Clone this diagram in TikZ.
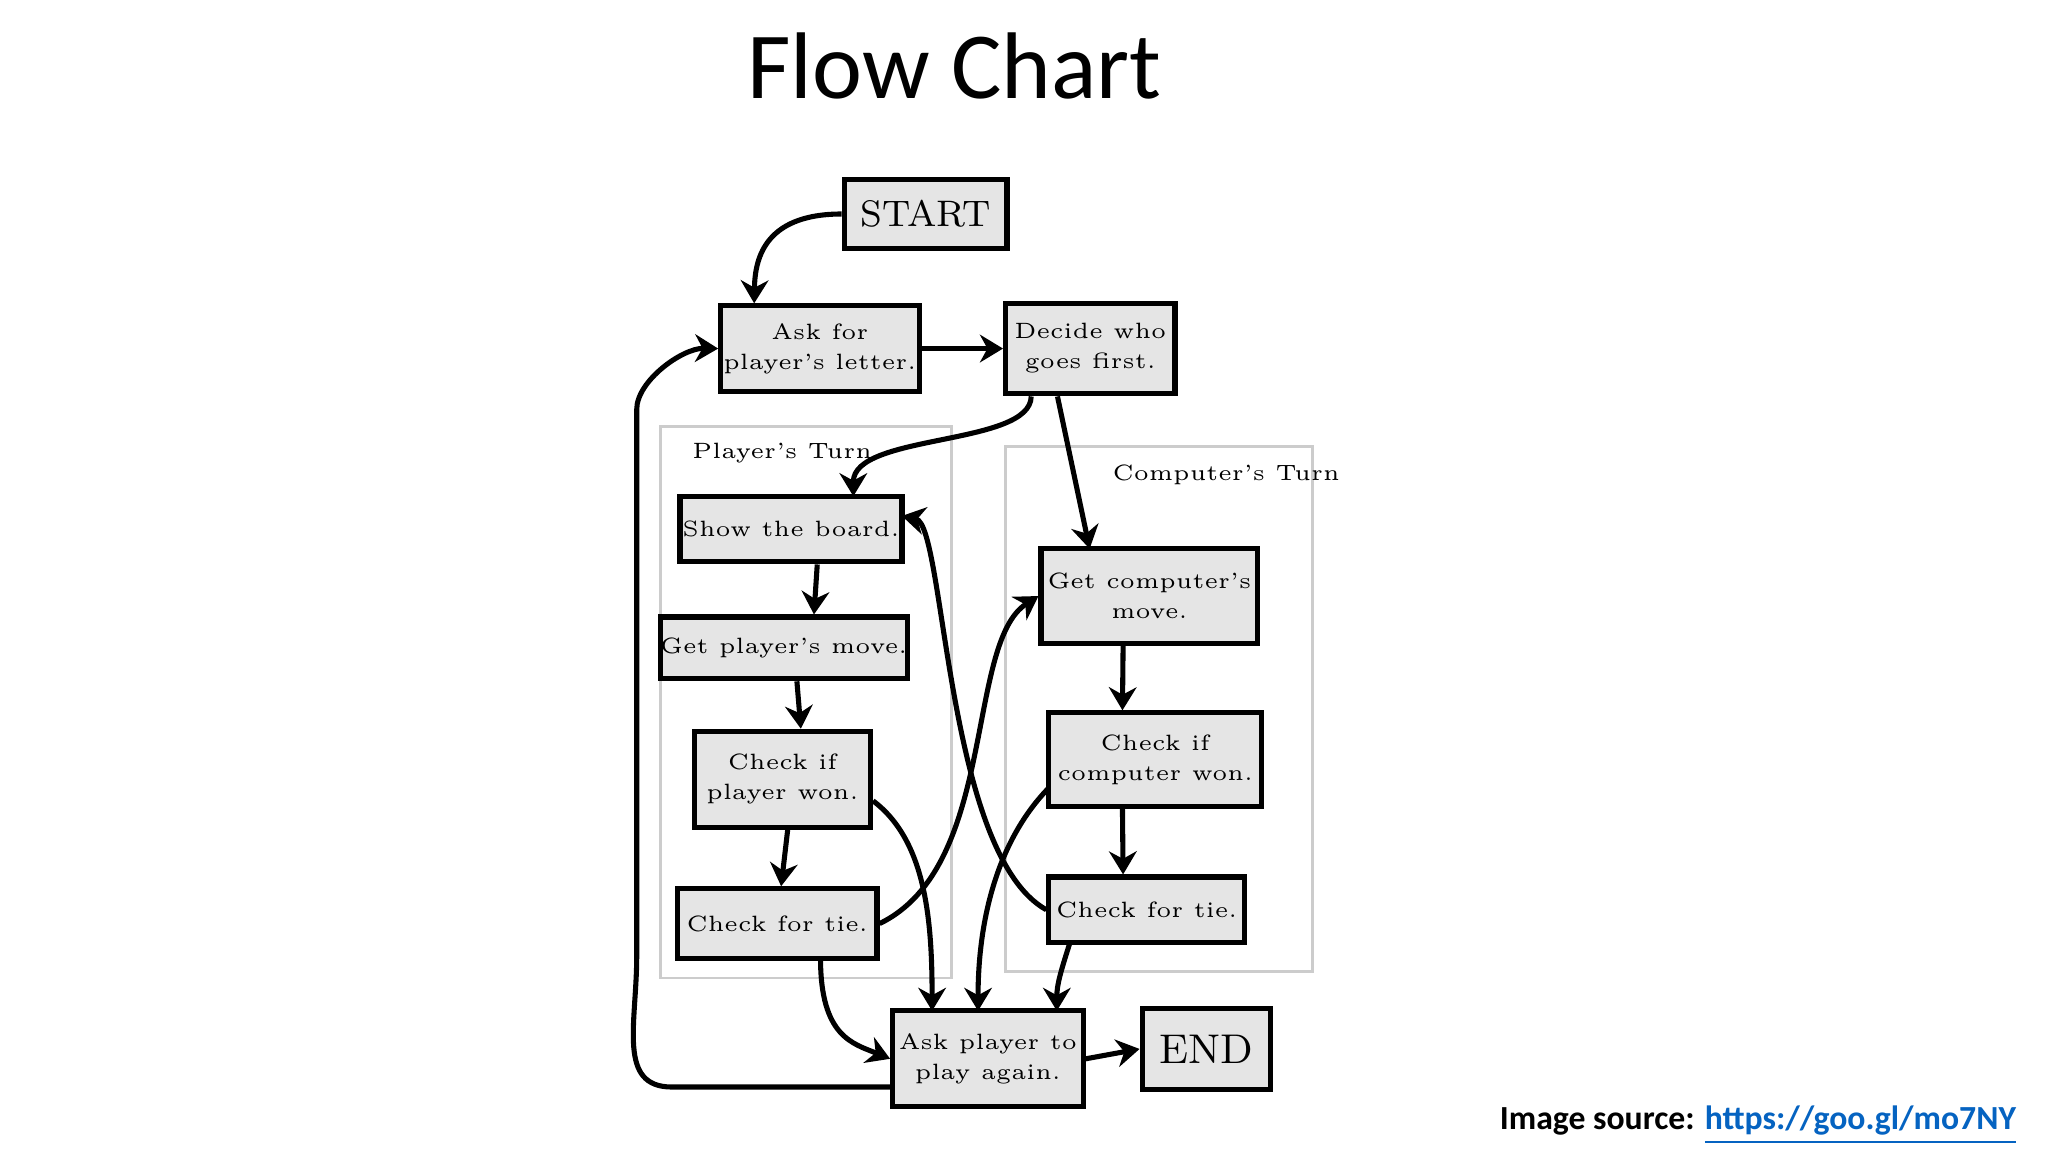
\documentclass[tikz,border=0pt]{standalone}
\usepackage{fontspec}
\newfontfamily\titlefont{Carlito}
\usetikzlibrary{arrows.meta}
\begin{document}
\begin{tikzpicture}[x=0.01cm,y=-0.01cm,
  box/.style={draw,line width=1.1pt,fill=black!10,inner sep=0pt,align=center,
    font=\fontsize{4.8}{6.5}\selectfont},
  panel/.style={draw=black!20,line width=0.6pt},
  arr/.style={line width=1.1pt,-{Stealth[length=5pt,width=6pt]},rounded corners=8pt}]
\useasboundingbox[fill=white] (0,0) rectangle (1560,878);
\node[font=\titlefont\fontsize{20.5}{24}\selectfont] (title) at (727,50) {Flow Chart};
\node[anchor=east,font=\titlefont\bfseries\fontsize{7.3}{9}\selectfont] (src) at (1548,857)
  {Image source: \textcolor[HTML]{0563C1}{\underline{https://goo.gl/mo7NY}}};
% panels
\draw[panel] (503,325) rectangle (725,745);
\draw[panel] (766,340) rectangle (1000,740);
\node[anchor=west,font=\fontsize{4.8}{6}\selectfont] (pt) at (515,345) {Player's Turn};
\node[anchor=west,font=\fontsize{4.8}{6}\selectfont] (ct) at (835,362) {Computer's Turn};
% boxes
\node[box,minimum width=1.24cm,minimum height=0.53cm,font=\fontsize{8}{10}\selectfont] (start) at (705,163) {START};
\node[box,minimum width=1.51cm,minimum height=0.65cm] (ask) at (624.5,265.5) {Ask for\\player's letter.};
\node[box,minimum width=1.29cm,minimum height=0.69cm] (decide) at (830.5,265.5) {Decide who\\goes first.};
\node[box,minimum width=1.69cm,minimum height=0.50cm] (show) at (602.5,403) {Show the board.};
\node[box,minimum width=1.80cm,minimum height=0.47cm] (gpm) at (597,493.5) {Get player's move.};
\node[box,minimum width=1.34cm,minimum height=0.73cm] (cpw) at (596,593.5) {Check if\\player won.};
\node[box,minimum width=1.52cm,minimum height=0.53cm] (tieL) at (592,703.5) {Check for tie.};
\node[box,minimum width=1.65cm,minimum height=0.72cm] (gcm) at (875.5,454) {Get computer's\\move.};
\node[box,minimum width=1.62cm,minimum height=0.71cm] (ccw) at (880,578.5) {Check if\\computer won.};
\node[box,minimum width=1.49cm,minimum height=0.50cm] (tieR) at (873.5,693) {Check for tie.};
\node[box,minimum width=1.45cm,minimum height=0.73cm] (again) at (752.5,806.5) {Ask player to\\play again.};
\node[box,minimum width=0.98cm,minimum height=0.62cm,font=\fontsize{9}{11}\selectfont] (end) at (919,799) {END};
% connectors
\draw[arr] (start.west) .. controls (580,163) and (575,200) .. ([xshift=-0.5cm]ask.north);
\draw[arr] (ask.east) -- (decide.west);
\draw[arr] ([xshift=-0.45cm]decide.south) .. controls (785,340) and (650,330) .. (650,378);
\draw[arr] ([xshift=-0.25cm]decide.south) -- (830,418);
\draw[arr] ([xshift=0.2cm]show.south) -- ([xshift=0.23cm]gpm.north);
\draw[arr] ([xshift=0.1cm]gpm.south) -- ([xshift=0.14cm]cpw.north);
\draw[arr] ([xshift=0.04cm]cpw.south) -- ([xshift=0.03cm]tieL.north);
\draw[arr] (665,610) .. controls (705,640) and (710,700) .. (710,770);
\draw[arr] (tieL.east) .. controls (760,660) and (735,490) .. (gcm.west);
\draw[arr] (625,730) .. controls (625,790) and (650,795) .. (again.west);
\draw[arr] ([xshift=-0.2cm]gcm.south) -- ([xshift=-0.25cm]ccw.north);
\draw[arr] ([xshift=-0.25cm]ccw.south) -- ([xshift=-0.18cm]tieR.north);
\draw[arr] (799,600) .. controls (760,640) and (745,700) .. (745,770);
\draw[arr] (tieR.west) .. controls (720,650) and (720,400) .. (687,393);
\draw[arr] (815,718) .. controls (808,740) and (805,750) .. (805,770);
\draw[arr] (680,828) -- (540,828) .. controls (470,828) and (485,780) .. (485,700) -- (485,340)
  .. controls (485,290) and (520,265) .. (ask.west);
\draw[arr] (again.east) -- (end.west);
\end{tikzpicture}
\end{document}
